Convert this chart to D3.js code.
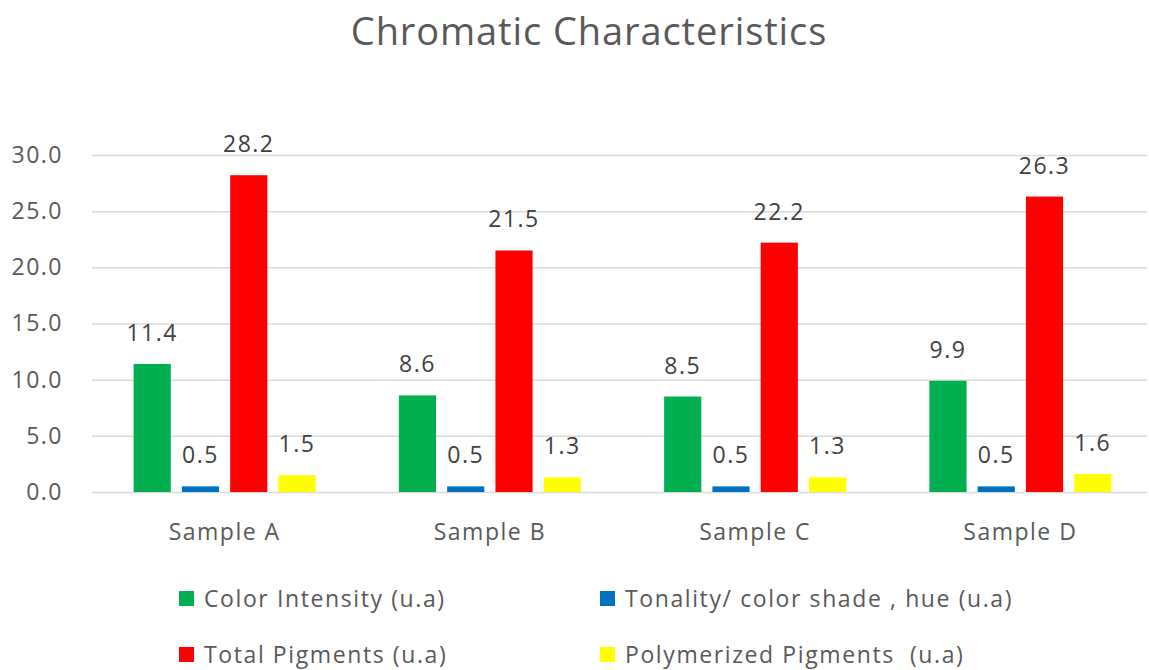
<!DOCTYPE html>
<html><head><meta charset="utf-8">
<script src="https://cdn.jsdelivr.net/npm/d3@7"></script>
<style>body{margin:0;background:#fff}svg{display:block}text{font-family:"Open Sans",sans-serif}</style>
</head><body><svg id="c" width="1149" height="670"></svg>
<script>
const categories = ["Sample A","Sample B","Sample C","Sample D"];
const seriesNames = ["Color Intensity (u.a)","Tonality/ color shade , hue (u.a)","Total Pigments (u.a)","Polymerized Pigments  (u.a)"];
const colorIntensity = [11.4, 8.6, 8.5, 9.9];
const tonality = [0.5, 0.5, 0.5, 0.5];
const totalPigments = [28.2, 21.5, 22.2, 26.3];
const polymerized = [1.5, 1.3, 1.3, 1.6];
const yTicks = [0,5,10,15,20,25,30];
const colors = ["#00b050","#0070c0","#ff0000","#ffff00"];
const series = [colorIntensity, tonality, totalPigments, polymerized];

const FONT = "'Open Sans',sans-serif";
const svg = d3.select("#c");
const x = d3.scaleBand().domain(categories).range([92,1153]).paddingInner(0).paddingOuter(0);
const y = d3.scaleLinear().domain([0,30]).range([492,155]);
const x1 = d3.scaleBand().domain(d3.range(4)).range([0,182]).paddingInner(0.23).paddingOuter(0);

svg.append("text").attr("x",589).attr("y",45).attr("text-anchor","middle")
  .attr("font-size",38).attr("letter-spacing",0.9).attr("fill","#595959").text("Chromatic Characteristics");

// grid
svg.append("g").selectAll("line").data(yTicks).join("line")
  .attr("x1",92).attr("x2",1147).attr("y1",d=>y(d)+0.5).attr("y2",d=>y(d)+0.5)
  .attr("stroke","#d9d9d9").attr("stroke-width",1.5);

// y axis labels
const ya = svg.append("g").attr("transform","translate(72,0)")
  .call(d3.axisLeft(y).tickValues(yTicks).tickFormat(d3.format(".1f")).tickSize(0).tickPadding(9));
ya.select(".domain").remove();
ya.selectAll("text").attr("font-size",23).attr("letter-spacing",1.5).attr("fill","#595959").attr("font-family",FONT);

// x axis labels
const xa = svg.append("g").attr("transform","translate(0,512)")
  .call(d3.axisBottom(x).tickSize(0).tickPadding(12));
xa.select(".domain").remove();
xa.selectAll("text").attr("font-size",23).attr("letter-spacing",1.5).attr("fill","#595959").attr("font-family",FONT);

// bars
const groups = svg.append("g").selectAll("g").data(categories).join("g")
  .attr("transform",c=>`translate(${x(c)+x.bandwidth()/2-91},0)`);
groups.each(function(c,ci){
  const g = d3.select(this);
  series.forEach((s,si)=>{
    g.append("rect").attr("x",x1(si)).attr("width",x1.bandwidth())
      .attr("y",y(s[ci])).attr("height",y(0)-y(s[ci])).attr("fill",colors[si]);
    g.append("text").attr("x",x1(si)+x1.bandwidth()/2).attr("y",y(s[ci])-23)
      .attr("text-anchor","middle").attr("font-size",23).attr("letter-spacing",1.5).attr("fill","#404040")
      .text(s[ci].toFixed(1));
  });
});

// legend
const legendPos = [[179,599],[600,599],[179,655],[600,655]];
seriesNames.forEach((n,i)=>{
  const [lx,ly] = legendPos[i];
  svg.append("rect").attr("x",lx).attr("y",ly-8).attr("width",15).attr("height",15).attr("fill",colors[i]);
  svg.append("text").attr("x",lx+25).attr("y",ly+8).attr("font-size",23).attr("letter-spacing",1.6)
    .attr("xml:space","preserve").style("white-space","pre").attr("fill","#595959").text(n);
});
</script></body></html>
